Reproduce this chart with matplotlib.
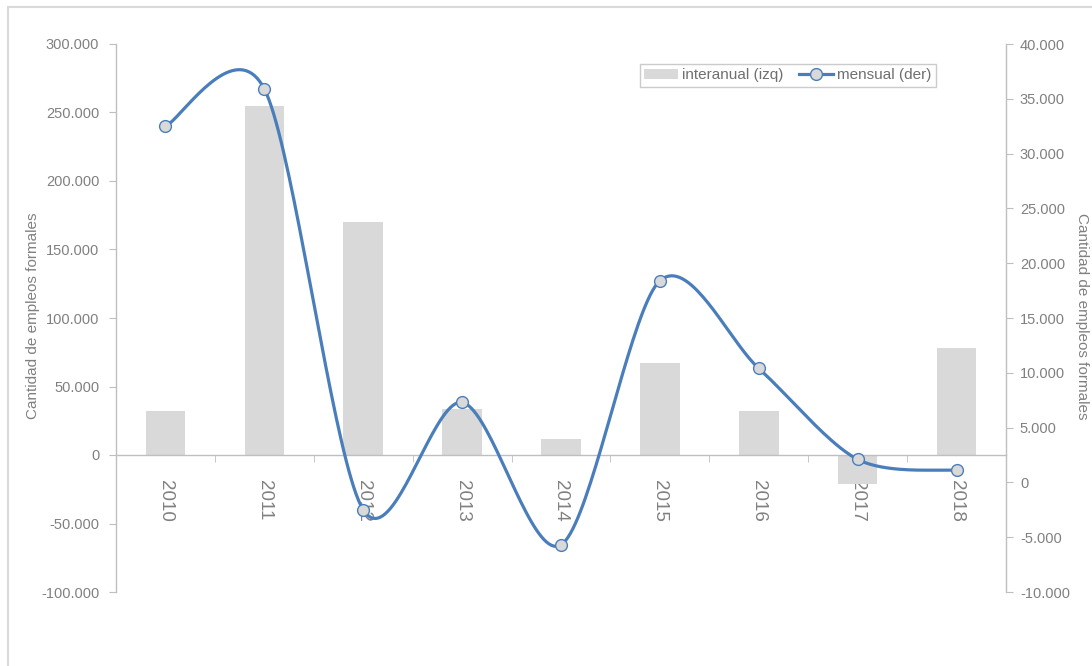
import numpy as np
import matplotlib
matplotlib.use("Agg")
import matplotlib.pyplot as plt
from matplotlib.lines import Line2D
from matplotlib.patches import Patch, Rectangle

plt.rcParams["font.family"] = ["Liberation Sans", "DejaVu Sans"]

# Data
years = ["2010", "2011", "2012", "2013", "2014", "2015", "2016", "2017", "2018"]
interanual = [32000, 255000, 170000, 33500, 11500, 67500, 32000, -21500, 78000]
mensual = [32500, 35900, -2500, 7300, -5700, 18400, 10400, 2100, 1100]

GREY_TXT = "#808080"
SPINE = "#bfbfbf"
BAR = "#d9d9d9"
BLUE = "#4a7ebb"


def smooth(x, y, n=40, k=0.45):
    """Catmull-Rom style curve through the points (like Excel's smoothed line)."""
    x = np.asarray(x, float)
    y = np.asarray(y, float)
    px = np.concatenate([[x[0]], x, [x[-1]]])
    py = np.concatenate([[y[0]], y, [y[-1]]])
    t = np.linspace(0, 1, n)
    h00 = 2 * t**3 - 3 * t**2 + 1
    h10 = t**3 - 2 * t**2 + t
    h01 = -2 * t**3 + 3 * t**2
    h11 = t**3 - t**2
    xs, ys = [], []
    for i in range(1, len(px) - 2):
        mx0 = (px[i + 1] - px[i - 1]) * k
        mx1 = (px[i + 2] - px[i]) * k
        my0 = (py[i + 1] - py[i - 1]) * k
        my1 = (py[i + 2] - py[i]) * k
        xs.append(h00 * px[i] + h10 * mx0 + h01 * px[i + 1] + h11 * mx1)
        ys.append(h00 * py[i] + h10 * my0 + h01 * py[i + 1] + h11 * my1)
    return np.concatenate(xs), np.concatenate(ys)


fig = plt.figure(figsize=(10.92, 6.66), dpi=100)
ax = fig.add_axes([116 / 1092, 1 - 592 / 666, 890 / 1092, 548 / 666])
ax2 = ax.twinx()

pos = np.arange(len(years))
ax.bar(pos, interanual, width=0.4, color=BAR, zorder=2)
ax.set_xlim(-0.5, len(years) - 0.5)
ax.set_ylim(-100000, 300000)
left_ticks = np.arange(-100000, 300001, 50000)
ax.set_yticks(left_ticks)
ax.set_yticklabels([f"{v:,.0f}".replace(",", ".") for v in left_ticks])

sx, sy = smooth(pos, mensual)
ax2.plot(sx, sy, color=BLUE, lw=2.3, zorder=3, solid_capstyle="round")
ax2.plot(pos, mensual, ls="none", marker="o", ms=8.5, mfc="#d9d9d9",
         mec=BLUE, mew=1.0, zorder=4)
ax2.set_ylim(-10000, 40000)
right_ticks = np.arange(-10000, 40001, 5000)
ax2.set_yticks(right_ticks)
ax2.set_yticklabels([f"{v:,.0f}".replace(",", ".") for v in right_ticks])

# spines
for a in (ax, ax2):
    a.spines["top"].set_visible(False)
    for s in a.spines.values():
        s.set_color(SPINE)
        s.set_linewidth(1.0)
ax.spines["right"].set_visible(False)
ax2.spines["left"].set_visible(False)
ax2.spines["bottom"].set_visible(False)
ax.spines["bottom"].set_position(("data", 0))

ax.tick_params(axis="y", colors=SPINE, labelcolor=GREY_TXT, labelsize=10.5,
               length=5, pad=7)
ax2.tick_params(axis="y", colors=SPINE, labelcolor=GREY_TXT, labelsize=10.5,
                length=5, pad=5)

# category labels at centres, tick marks at boundaries
ax.set_xticks(pos)
ax.set_xticklabels(years, rotation=-90, ha="center", va="top",
                   color=GREY_TXT, fontsize=13.5)
ax.set_xticks(np.arange(0.5, len(years) - 1, 1), minor=True)
ax.tick_params(axis="x", which="major", length=0, pad=18)
ax.tick_params(axis="x", which="minor", length=5, colors=SPINE, direction="out")

fig.text(33 / 1092, 1 - 316 / 666, "Cantidad de empleos formales", rotation=90,
         ha="center", va="center", color=GREY_TXT, fontsize=11)
fig.text(1082 / 1092, 1 - 316 / 666, "Cantidad de empleos formales", rotation=270,
         ha="center", va="center", color=GREY_TXT, fontsize=11)

handles = [Patch(facecolor=BAR, edgecolor="none"),
           Line2D([], [], color=BLUE, lw=2.3, marker="o", ms=8.5,
                  mfc="#d9d9d9", mec=BLUE, mew=1.0)]
leg = ax2.legend(handles, ["interanual (izq)", "mensual (der)"], ncol=2,
                 loc="upper left", bbox_to_anchor=((632 - 116) / 890, 1 - 12 / 548),
                 frameon=True, fancybox=False, fontsize=11, handlelength=2.2,
                 handletextpad=0.3, columnspacing=1.0, borderpad=0.3,
                 labelcolor="#6f6f6f")
leg.get_frame().set_edgecolor("#bfbfbf")
leg.get_frame().set_linewidth(1.0)

# outer chart frame (partly cropped in the reference)
fig.patches.append(Rectangle((8 / 1092, -0.05), 1.1, 1 - 7 / 666 + 0.05,
                             transform=fig.transFigure, fill=False,
                             edgecolor="#d9d9d9", lw=1.5))

fig.savefig("out.png", dpi=100)
